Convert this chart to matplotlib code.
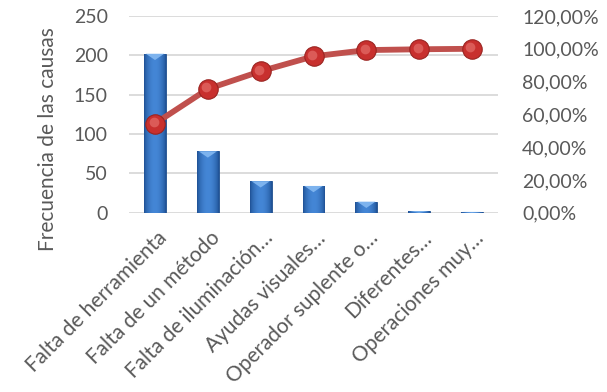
import matplotlib
matplotlib.use("Agg")
import matplotlib.pyplot as plt
import numpy as np
from matplotlib.ticker import FuncFormatter
from matplotlib.colors import LinearSegmentedColormap
from matplotlib.transforms import ScaledTranslation
from matplotlib.patches import Polygon

categories = ["Falta de herramienta", "Falta de un método", "Falta de iluminación…",
              "Ayudas visuales…", "Operador suplente o…", "Diferentes…", "Operaciones muy…"]
frequencies = [202, 78, 40, 34, 14, 2, 1]
cumulative_pct = [54.4, 75.5, 86.3, 95.4, 99.2, 99.7, 100.0]
left_ticks = [0, 50, 100, 150, 200, 250]
right_ticks = [0, 20, 40, 60, 80, 100, 120]

plt.rcParams['font.family'] = ['Lato', 'DejaVu Sans']
txt = '#595959'

fig = plt.figure(figsize=(6.07, 3.92), dpi=100)
ax = fig.add_axes([128.6 / 607, 1 - 212.7 / 392, (498.4 - 128.6) / 607, (212.7 - 16) / 392])
x = np.arange(len(categories))

bars = ax.bar(x, frequencies, width=0.41, color='#3371BE', edgecolor='#1F4E8C',
              linewidth=0.6, zorder=3)
grad = np.linspace(0, 1, 64)
grad = np.vstack([np.sin(grad * np.pi) ** 0.7] * 2)
cmap = LinearSegmentedColormap.from_list('b', ['#1D4F92', '#4486D6'])
for b in bars:
    h = b.get_height()
    if h <= 0:
        continue
    im = ax.imshow(grad, cmap=cmap, aspect='auto', zorder=3.5,
                   extent=[b.get_x(), b.get_x() + b.get_width(), 0, h])
    im.set_clip_path(b)
    x0, w = b.get_x(), b.get_width()
    depth = min(h, 8.0)
    tri = Polygon([[x0 + w * 0.08, h], [x0 + w * 0.92, h], [x0 + w / 2, h - depth]],
                  closed=True, facecolor='#7DB3EE', edgecolor='none', zorder=3.6)
    ax.add_patch(tri)

ax.set_xlim(-0.5, len(categories) - 0.5)
ax.set_ylim(0, 250)
ax.set_yticks(left_ticks)
ax.grid(axis='y', color='#D9D9D9', linewidth=1.3, zorder=0)
ax.set_axisbelow(True)
for s in ax.spines.values():
    s.set_visible(False)
ax.tick_params(axis='y', length=0, pad=15, labelsize=14, labelcolor=txt)
ax.tick_params(axis='x', length=0, pad=11, labelsize=15, labelcolor=txt)
ax.set_xticks(x)
ax.set_xticklabels(categories, rotation=45, ha='right', va='top', rotation_mode='anchor')
for lbl in ax.get_xticklabels():
    lbl.set_transform(lbl.get_transform() + ScaledTranslation(2 / 100, 0, fig.dpi_scale_trans))

ax2 = ax.twinx()
ax2.set_ylim(0, 120)
ax2.set_yticks(right_ticks)
ax2.yaxis.set_major_formatter(FuncFormatter(lambda v, p: f"{v:.2f}".replace('.', ',') + '%'))
for s in ax2.spines.values():
    s.set_visible(False)
ax2.tick_params(axis='y', length=0, pad=17, labelsize=14, labelcolor=txt)
ax2.plot(x, cumulative_pct, color='#C0504D', linewidth=4.2, zorder=5, solid_capstyle='round')
ax2.plot(x, cumulative_pct, 'o', markersize=14, markerfacecolor='#C8302E',
         markeredgecolor='#9A2421', markeredgewidth=0.8, zorder=6)
ax2.plot(x, cumulative_pct, 'o', markersize=7, markerfacecolor='#E26A66',
         markeredgewidth=0, alpha=0.75, zorder=7,
         transform=ax2.transData + ScaledTranslation(-1.5 / 100, 1.5 / 100, fig.dpi_scale_trans))

fig.text(48 / 607, 1 - 139 / 392, "Frecuencia de las causas", rotation=90,
         ha='center', va='center', fontsize=15, color=txt)

fig.savefig('out.png', dpi=100)
